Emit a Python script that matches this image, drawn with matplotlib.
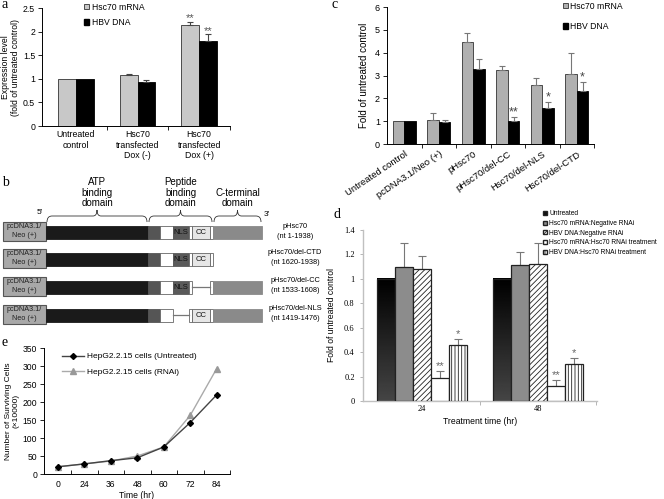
import numpy as np
import matplotlib
matplotlib.use('Agg')
import matplotlib.pyplot as plt
from matplotlib.patches import Rectangle, Patch, PathPatch
from matplotlib.path import Path

plt.rcParams['font.family'] = ['Liberation Sans', 'DejaVu Sans']
plt.rcParams['hatch.linewidth'] = 0.6

W, H = 664, 499
SERIF = ['Liberation Serif', 'DejaVu Serif']

# ---- panel a: expression level after Hsc70 transfection
a_groups = ['Untreated\ncontrol', 'Hsc70\ntransfected\nDox (-)', 'Hsc70\ntransfected\nDox (+)']
a_mrna = [1.0, 1.07, 2.14]
a_mrna_err = [0, 0.04, 0.06]
a_dna = [1.0, 0.93, 1.81]
a_dna_err = [0, 0.04, 0.13]
a_mrna_stars = ['', '', '**']
a_dna_stars = ['', '', '**']

# ---- panel c: deletion mutants
c_groups = ['Untreated control', 'pcDNA3.1/Neo (+)', 'pHsc70', 'pHsc70/del-CC',
            'Hsc70/del-NLS', 'Hsc70/del-CTD']
c_mrna = [1.0, 1.05, 4.45, 3.22, 2.57, 3.05]
c_mrna_err = [0, 0.30, 0.40, 0.18, 0.30, 0.92]
c_dna = [1.0, 0.97, 3.28, 1.0, 1.58, 2.33]
c_dna_err = [0, 0.10, 0.43, 0.18, 0.27, 0.40]
c_dna_stars = ['', '', '', '**', '*', '*']

# ---- panel d: RNAi
d_times = ['24', '48']
d_labels = ['Untreated', 'Hsc70 mRNA:Negative RNAi', 'HBV DNA:Negative RNAi',
            'Hsc70 mRNA:Hsc70 RNAi treatment', 'HBV DNA:Hsc70 RNAi treatment']
d_values = [[1.0, 1.0], [1.10, 1.11], [1.08, 1.12], [0.19, 0.12], [0.46, 0.30]]
d_err = [[0, 0], [0.19, 0.11], [0.11, 0.175], [0.055, 0.055], [0.045, 0.05]]
d_stars = ['', '', '', '**', '*']

# ---- panel e: growth curve
e_time = ['0', '24', '36', '48', '60', '72', '84']
e_untreated = [20, 28, 37, 45, 75, 143, 220]
e_rnai = [20, 28, 36, 50, 75, 163, 293]

# ---- panel b: constructs (schematic, drawn in pixel units)
b_names = ['pHsc70\n(nt 1-1938)', 'pHsc70/del-CTD\n(nt 1620-1938)',
           'pHsc70/del-CC\n(nt 1533-1608)', 'pHsc70/del-NLS\n(nt 1419-1476)']
b_full = [(46, 148, 'atp'), (148, 160, 'sbd'), (160, 173, 'open'), (173, 189, 'nls'),
          (189, 192, 'thin'), (192, 210, 'cc'), (210, 213, 'thin'), (213, 262, 'ctd')]
b_constructs = [
    b_full,
    b_full[:7],
    b_full[:5] + [(192, 210, 'line')] + b_full[6:],
    b_full[:3] + [(173, 189, 'line')] + b_full[4:],
]
b_domains = [('ATP\nbinding\ndomain', 46, 148), ('Peptide\nbinding\ndomain', 148, 213),
             ('C-terminal\ndomain', 213, 262)]
seg_color = {'atp': '#1a1a1a', 'sbd': '#555555', 'open': 'white', 'nls': '#5a5a5a',
             'thin': 'white', 'cc': '#e6e6e6', 'ctd': '#8a8a8a'}
seg_text = {'nls': 'NLS', 'cc': 'CC'}

fig = plt.figure(figsize=(W / 100, H / 100), dpi=100)


def px_axes(l, t, r, b):
    return fig.add_axes([l / W, 1 - b / H, (r - l) / W, (b - t) / H])


def up_err(ax, x, y, e, color, cap=2.5):
    x, y, e = np.asarray(x), np.asarray(y), np.asarray(e)
    m = e > 0
    ax.errorbar(x[m], y[m], yerr=[np.zeros(m.sum()), e[m]], fmt='none',
                ecolor=color, elinewidth=0.8, capsize=cap, capthick=0.8)


def cat_ticks(ax, n, labels, direction='out', **kw):
    ax.set_xticks(np.arange(n))
    ax.set_xticklabels(labels, **kw)
    ax.tick_params(axis='x', which='major', length=0, pad=3)
    ax.set_xticks(np.arange(n) + 0.5, minor=True)
    ax.tick_params(axis='x', which='minor', length=3, direction=direction)


def clean(ax, color='black', lw=0.7):
    for s in ['top', 'right']:
        ax.spines[s].set_visible(False)
    for s in ['left', 'bottom']:
        ax.spines[s].set_linewidth(lw)
        ax.spines[s].set_color(color)


# ================= a
ax = px_axes(42, 8, 230, 126)
x = np.arange(3)
bw = 0.29
ax.bar(x - bw / 2, a_mrna, bw, color='#c8c8c8', edgecolor='#333333', lw=0.6, zorder=2)
ax.bar(x + bw / 2, a_dna, bw, color='black', edgecolor='black', lw=0.6, zorder=2)
up_err(ax, x - bw / 2, a_mrna, a_mrna_err, '#444444')
up_err(ax, x + bw / 2, a_dna, a_dna_err, '#444444')
for i in range(3):
    if a_mrna_stars[i]:
        ax.text(x[i] - bw / 2, a_mrna[i] + a_mrna_err[i] - 0.03, a_mrna_stars[i],
                ha='center', va='bottom', fontsize=8, color='#555555')
    if a_dna_stars[i]:
        ax.text(x[i] + bw / 2, a_dna[i] + a_dna_err[i] - 0.03, a_dna_stars[i],
                ha='center', va='bottom', fontsize=8, color='#555555')
ax.set_xlim(-0.55, 2.48)
ax.set_ylim(0, 2.5)
ax.set_yticks([0, 0.5, 1, 1.5, 2, 2.5])
ax.set_yticklabels(['0', '0.5', '1', '1.5', '2', '2.5'], fontsize=6.3)
ax.tick_params(axis='y', length=3, width=0.6, pad=2)
cat_ticks(ax, 3, a_groups, fontsize=6.3, linespacing=1.2)
ax.set_ylabel('Expression level\n(fold of untreated control)', fontsize=6.2,
              labelpad=2, linespacing=1.1)
clean(ax)
ax.legend(handles=[Patch(facecolor='#c8c8c8', edgecolor='#333333', lw=0.6),
                   Patch(facecolor='black', edgecolor='black')],
          labels=['Hsc70 mRNA', 'HBV DNA'], loc='upper left',
          bbox_to_anchor=(82 / W, 1 - 1 / H), bbox_transform=fig.transFigure,
          frameon=False, fontsize=6.2, handlelength=0.6, handleheight=0.6,
          handletextpad=0.4, labelspacing=0.75, borderpad=0.2, borderaxespad=0)

# ================= c
ax = px_axes(387, 7, 594, 144)
x = np.arange(6)
bw = 0.335
ax.bar(x - bw / 2, c_mrna, bw, color='#b0b0b0', edgecolor='#333333', lw=0.6, zorder=2)
ax.bar(x + bw / 2, c_dna, bw, color='black', edgecolor='black', lw=0.6, zorder=2)
up_err(ax, x - bw / 2, c_mrna, c_mrna_err, '#777777')
up_err(ax, x + bw / 2, c_dna, c_dna_err, '#777777')
for i in range(6):
    if c_dna_stars[i]:
        ax.text(x[i] + bw / 2, c_dna[i] + c_dna_err[i] - 0.08, c_dna_stars[i],
                ha='center', va='bottom', fontsize=9, color='#444444')
ax.set_xlim(-0.5, 5.5)
ax.set_ylim(0, 6)
ax.set_yticks(range(7))
ax.set_yticklabels([str(v) for v in range(7)], fontsize=6.5)
ax.tick_params(axis='y', length=3, width=0.6, pad=2)
cat_ticks(ax, 6, c_groups, fontsize=6.8, rotation=34, ha='right', rotation_mode='anchor')
ax.tick_params(axis='x', which='major', pad=4)
ax.set_ylabel('Fold of untreated control', fontsize=7, labelpad=4)
clean(ax)
ax.legend(handles=[Patch(facecolor='#b0b0b0', edgecolor='#333333', lw=0.6),
                   Patch(facecolor='black', edgecolor='black')],
          labels=['Hsc70 mRNA', 'HBV DNA'], loc='upper left',
          bbox_to_anchor=(561 / W, 1 - 0 / H), bbox_transform=fig.transFigure,
          frameon=False, fontsize=6.2, handlelength=0.6, handleheight=0.6,
          handletextpad=0.3, labelspacing=1.3, borderpad=0.2, borderaxespad=0)

# ================= d
ax = px_axes(363, 230, 597, 401)
x = np.arange(2)
bw = 0.155
offs = (np.arange(5) - 2) * bw
d_face = ['none', '#8c8c8c', 'white', 'white', 'white']
d_hatch = [None, None, '//////', None, '|||||']
for k in range(5):
    ax.bar(x + offs[k], d_values[k], bw, color=d_face[k], edgecolor='#222222',
           hatch=d_hatch[k], lw=0.9, zorder=3)
    up_err(ax, x + offs[k], d_values[k], d_err[k], '#777777', cap=3)
    if d_stars[k]:
        for i in range(2):
            ax.text(x[i] + offs[k], d_values[k][i] + d_err[k][i] + 0.0, d_stars[k],
                    ha='center', va='bottom', fontsize=8, color='#666666')
grad = np.linspace(0.27, 0.0, 100).reshape(-1, 1)
for i in range(2):
    ax.imshow(grad, extent=[x[i] + offs[0] - bw / 2, x[i] + offs[0] + bw / 2, 0, d_values[0][i]],
              cmap='gray', vmin=0, vmax=1, aspect='auto', origin='lower', zorder=2)
ax.set_xlim(-0.51, 1.51)
ax.set_ylim(0, 1.4)
ax.set_yticks(np.arange(0, 1.41, 0.2))
ax.set_yticklabels(['0', '0.2', '0.4', '0.6', '0.8', '1', '1.2', '1.4'],
                   fontsize=6, family=SERIF)
ax.tick_params(axis='y', length=2, width=0.6, color='#aaaaaa', pad=4)
cat_ticks(ax, 2, d_times, fontsize=6, family=SERIF)
ax.tick_params(axis='x', which='minor', color='#aaaaaa')
ax.set_ylabel('Fold of untreated control', fontsize=6.2, labelpad=6)
ax.set_xlabel('Treatment time (hr)', fontsize=6.2, labelpad=3)
clean(ax, color='#c0c0c0', lw=1.0)
d_handles = [Patch(facecolor='#111111', edgecolor='#222222'),
             Patch(facecolor='#8c8c8c', edgecolor='#222222'),
             Patch(facecolor='white', edgecolor='#222222', hatch='//////'),
             Patch(facecolor='white', edgecolor='#222222'),
             Patch(facecolor='white', edgecolor='#222222', hatch='|||||')]
ax.legend(handles=d_handles, labels=d_labels, loc='upper left',
          bbox_to_anchor=(542 / W, 1 - 209 / H), bbox_transform=fig.transFigure,
          frameon=False, fontsize=4.8, handlelength=0.6, handleheight=0.6,
          handletextpad=0.3, labelspacing=0.4, borderpad=0.2, borderaxespad=0)

# ================= e
ax = px_axes(44, 348, 230, 474)
x = np.arange(7)
ax.plot(x, e_untreated, color='#444444', lw=1.0, marker='D', ms=3.0,
        mfc='black', mec='black', label='HepG2.2.15 cells (Untreated)', zorder=3)
ax.plot(x, e_rnai, color='#aaaaaa', lw=1.0, marker='^', ms=4.0,
        mfc='#999999', mec='#999999', label='HepG2.2.15 cells (RNAi)', zorder=2)
ax.set_xlim(-0.52, 6.45)
ax.set_ylim(0, 350)
ax.set_yticks(range(0, 351, 50))
ax.tick_params(axis='y', labelsize=6.2, length=3, width=0.6, pad=2)
cat_ticks(ax, 7, e_time, direction='in', fontsize=6.2)
ax.tick_params(axis='x', which='major', pad=4)
ax.set_xlabel('Time (hr)', fontsize=6.2, labelpad=2)
ax.set_ylabel('Number of Surviving Cells\n(\u00d710000)', fontsize=6.0,
              labelpad=2, linespacing=1.1)
clean(ax)
ax.legend(loc='upper left', bbox_to_anchor=(60 / W, 1 - 351 / H),
          bbox_transform=fig.transFigure, frameon=False, fontsize=6,
          handlelength=2.7, handletextpad=0.3, labelspacing=0.9,
          borderpad=0.2, borderaxespad=0)

# ================= b
ax = fig.add_axes([0, 1 - 330 / H, 420 / W, 155 / H])
ax.set_xlim(0, 420)
ax.set_ylim(330, 175)
ax.axis('off')
rows = [231, 258, 286, 314]
for yc, segs, name in zip(rows, b_constructs, b_names):
    ax.add_patch(Rectangle((3, yc - 9.5), 43, 19, facecolor='#a8a8a8',
                           edgecolor='#555555', lw=0.8))
    ax.text(24.5, yc, 'pcDNA3.1/\nNeo (+)', ha='center', va='center', fontsize=5.2,
            color='#222222', linespacing=1.3)
    for x0, x1, kind in segs:
        if kind == 'line':
            ax.plot([x0, x1], [yc + 1, yc + 1], color='#777777', lw=0.9)
            continue
        edge = '#666666' if kind in ('open', 'thin', 'cc') else seg_color[kind]
        ax.add_patch(Rectangle((x0, yc - 5), x1 - x0, 12.5, facecolor=seg_color[kind],
                               edgecolor=edge, lw=0.6))
        if kind in seg_text:
            ax.text((x0 + x1) / 2, yc + 1.2, seg_text[kind], ha='center', va='center',
                    fontsize=5.5, color='#111111')
    ax.text(295, yc, name, ha='center', va='center', fontsize=5.3, linespacing=1.6)

for label, x0, x1 in b_domains:
    xm = (x0 + x1) / 2
    yb = 216
    verts = [(x0 + 1, yb + 6), (x0 + 1, yb), (x0 + 6, yb), (xm - 4, yb), (xm, yb),
             (xm, yb - 6), (xm, yb), (xm + 4, yb), (x1 - 6, yb), (x1 - 1, yb), (x1 - 1, yb + 6)]
    codes = [Path.MOVETO, Path.CURVE3, Path.CURVE3, Path.LINETO, Path.CURVE3, Path.CURVE3,
             Path.CURVE3, Path.CURVE3, Path.LINETO, Path.CURVE3, Path.CURVE3]
    ax.add_patch(PathPatch(Path(verts, codes), facecolor='none', edgecolor='#333333', lw=0.6))
    ax.text(xm, 208, label, ha='center', va='bottom', fontsize=7, linespacing=1.05)
ax.text(40, 213, "5'", ha='center', va='center', fontsize=6)
ax.text(267, 215, "3'", ha='center', va='center', fontsize=6)

# panel letters
for letter, px, py in [('a', 2, 5), ('b', 2, 183), ('c', 332, 5), ('d', 334, 214), ('e', 2, 342)]:
    fig.text(px / W, 1 - py / H, letter, fontsize=10, ha='left', va='center', family=SERIF)

fig.savefig('out.png', dpi=100)
